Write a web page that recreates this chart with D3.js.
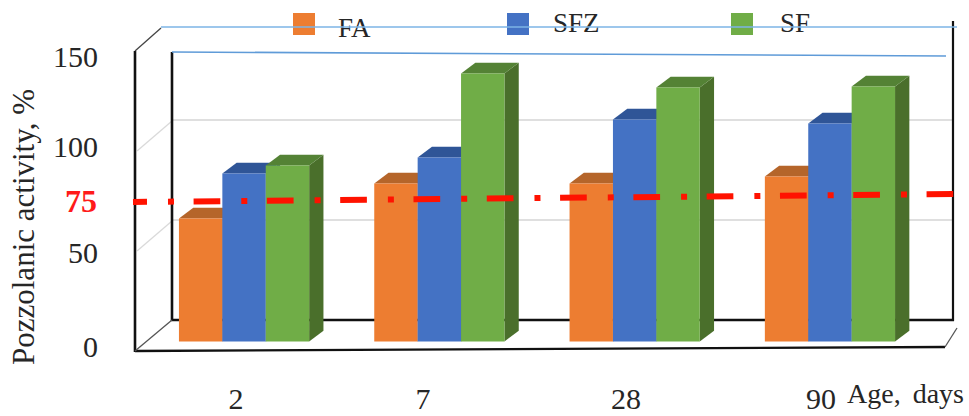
<!DOCTYPE html>
<html>
<head>
<meta charset="utf-8">
<style>
  html, body { margin: 0; padding: 0; background: #fff; }
  svg { display: block; }
  text { font-family: "Liberation Serif", serif; fill: #262626; }
</style>
<script src="https://cdn.jsdelivr.net/npm/d3@7/dist/d3.min.js"></script>
</head>
<body>
<script>
const ages = ["2", "7", "28", "90"];
const seriesNames = ["FA", "SFZ", "SF"];
const faValues = [61.5, 79, 79, 82.5];
const sfzValues = [84, 92, 111, 109];
const sfValues = [88, 134, 127, 127.5];
const yTicks = [0, 50, 100, 150];
const frontColors = ["#ed7d31", "#4472c4", "#70ad47"];
const topColors = ["#b5652a", "#2f5597", "#548235"];
const sideColors = ["#a85a22", "#2c4f8c", "#4a6f2b"];
const thresholdEnds = [75, 78.5];

const seriesValues = [faValues, sfzValues, sfValues];

const width = 969, height = 416;
const depthX = 14.3, depthY = 10.8;

const svg = d3.select("body").append("svg")
  .attr("width", width).attr("height", height);

// Horizontal placement of the age groups and of the bars inside each group
const x0 = d3.scaleBand().domain(ages).range([146.4, 927.6])
  .paddingInner(1 / 3).paddingOuter(1 / 6);
const x1 = d3.scaleBand().domain(seriesNames).range([0, x0.bandwidth()]);

// Bars stand on a floor in front of the back wall
const yBar = d3.scaleLinear().domain([0, 150]).range([341.5, 41.5]);
const yFront = d3.scaleLinear().domain([0, 150]).range([351, 51]);
const yBack = d3.scaleLinear().domain([0, 150]).range([320, 20]);
const yLabel = d3.scaleLinear().domain(yTicks).range([347, 253, 147, 57]);

const frontLeft = 135, backLeft = 172, backRight = 953;

function segment(x1p, y1p, x2p, y2p, color, w) {
  svg.append("line")
    .attr("x1", x1p).attr("y1", y1p).attr("x2", x2p).attr("y2", y2p)
    .attr("stroke", color).attr("stroke-width", w);
}

// Gridlines on the back wall and their returns along the side wall
[50, 100].forEach(v => {
  segment(backLeft, yBack(v), backRight, yBack(v), "#d4d4d4", 1.5);
  segment(frontLeft + 2, yFront(v), backLeft, yBack(v) + 1, "#d9d9d9", 1.2);
});

// Chart box edges
segment(backLeft, 52, backLeft, yBack(0) + 1, "#111", 2.6);
segment(backLeft - 1, yBack(0), backRight + 1, yBack(0), "#111", 2.4);
segment(backRight, 21, backRight, yBack(0) + 1, "#111", 2.2);
segment(frontLeft, yFront(150), frontLeft, yFront(0) + 1, "#111", 2.6);
segment(frontLeft, yFront(0), 945, 347, "#111", 2.4);
segment(frontLeft, yFront(0), backLeft, yBack(0), "#555", 1.3);
segment(frontLeft, yFront(150), 161, 28, "#444", 1.3);
segment(945, 347, 957, 328, "#555", 1.3);

// 3D bars: front face, top face and right side face
const groups = svg.selectAll("g.age").data(ages).join("g")
  .attr("class", "age")
  .attr("transform", d => `translate(${x0(d)},0)`);

seriesNames.forEach((name, s) => {
  const bw = x1.bandwidth();
  groups.each(function (age, i) {
    const g = d3.select(this);
    const left = x1(name);
    const yt = yBar(seriesValues[s][i]);
    const yb = yBar(0);
    g.append("polygon")
      .attr("fill", sideColors[s])
      .attr("points", [[left + bw, yt], [left + bw + depthX, yt - depthY],
        [left + bw + depthX, yb - depthY], [left + bw, yb]].join(" "));
    g.append("polygon")
      .attr("fill", topColors[s])
      .attr("points", [[left, yt], [left + depthX, yt - depthY],
        [left + bw + depthX, yt - depthY], [left + bw, yt]].join(" "));
    g.append("rect")
      .attr("x", left).attr("y", yt)
      .attr("width", bw).attr("height", yb - yt)
      .attr("fill", frontColors[s]);
  });
});

// Legend
const legendSwatchX = d3.scaleOrdinal().domain(seriesNames).range([293, 507, 731]);
const legendTextX = d3.scaleOrdinal().domain(seriesNames).range([338, 553, 780]);
const legendBaseline = d3.scaleOrdinal().domain(seriesNames).range([37, 32, 32]);
seriesNames.forEach((name, s) => {
  svg.append("rect")
    .attr("x", legendSwatchX(name)).attr("y", 13)
    .attr("width", 22).attr("height", 22)
    .attr("fill", frontColors[s]);
  svg.append("text")
    .attr("x", legendTextX(name)).attr("y", legendBaseline(name))
    .attr("font-size", 27).text(name);
});

// Blue edges across the top of the box, passing over the legend
segment(161, 27, 957, 27, "#7db5e6", 1.5);
segment(backLeft, 52, 946, 56, "#5f9bd8", 1.6);

// Value axis labels
svg.selectAll("text.ytick").data(yTicks).join("text")
  .attr("class", "ytick")
  .attr("x", 98)
  .attr("y", d => yLabel(d))
  .attr("dy", "0.34em")
  .attr("text-anchor", "end")
  .attr("font-size", 30)
  .text(d => d);

svg.append("text")
  .attr("x", 97).attr("y", yFront(75) + 11)
  .attr("text-anchor", "end")
  .attr("font-size", 32).attr("font-weight", "bold")
  .style("fill", "#ff1a1a")
  .text(thresholdEnds[0]);

svg.append("text")
  .attr("transform", "translate(34,365) rotate(-90)")
  .attr("font-size", 31)
  .text("Pozzolanic activity, %");

// Age labels sit slightly staggered under the floor
const ageLabelX = d3.scaleOrdinal().domain(ages).range([236, 423, 626, 821]);
const ageLabelY = d3.scaleOrdinal().domain(ages).range([409, 409, 409, 409]);
svg.selectAll("text.xtick").data(ages).join("text")
  .attr("class", "xtick")
  .attr("x", d => ageLabelX(d))
  .attr("y", d => ageLabelY(d))
  .attr("text-anchor", "middle")
  .attr("font-size", 30)
  .text(d => d);

svg.append("text")
  .attr("x", 847).attr("y", 403)
  .attr("font-size", 28)
  .style("word-spacing", "5px")
  .text("Age, days");

// Dash-dot threshold line, slightly tilted, drawn above everything
svg.append("line")
  .attr("x1", 133).attr("y1", yFront(thresholdEnds[0]) + 1)
  .attr("x2", 960).attr("y2", yFront(thresholdEnds[1]))
  .attr("stroke", "#ff1200")
  .attr("stroke-width", 6)
  .attr("stroke-dasharray", "26.7 21 6 19.6")
  .attr("stroke-dashoffset", 12.7);
</script>
</body>
</html>
